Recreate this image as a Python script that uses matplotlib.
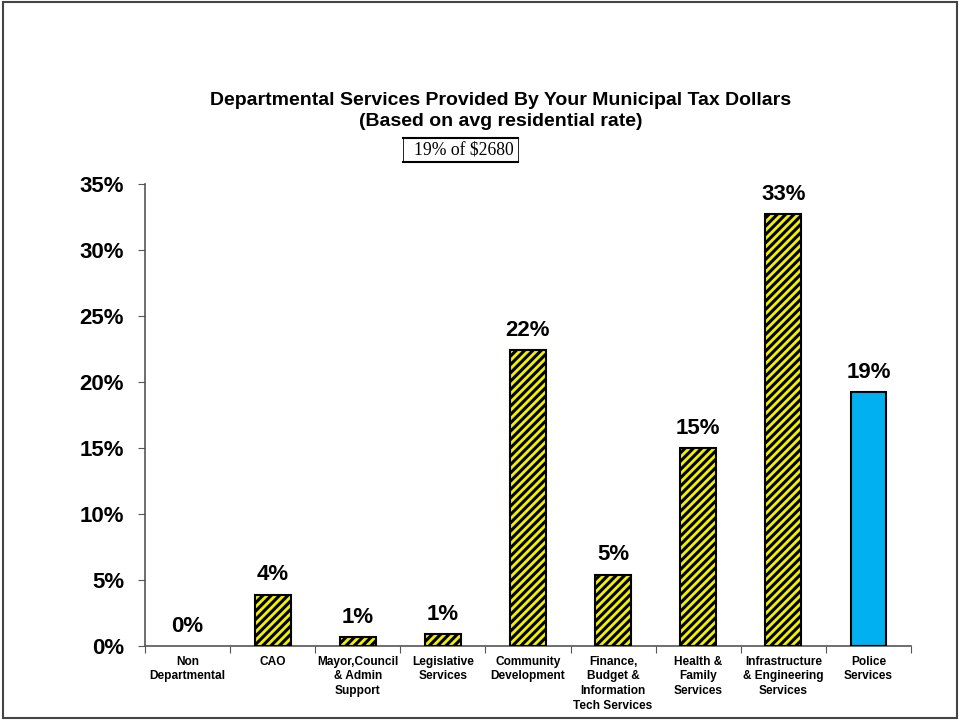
import matplotlib
matplotlib.use('Agg')
import matplotlib.pyplot as plt
from matplotlib.patches import Rectangle
from matplotlib.lines import Line2D

plt.rcParams['font.family'] = ['Liberation Sans', 'DejaVu Sans']
plt.rcParams['hatch.linewidth'] = 2.2

# data
categories = ['Non\nDepartmental', 'CAO', 'Mayor,Council\n& Admin\nSupport',
              'Legislative\nServices', 'Community\nDevelopment',
              'Finance,\nBudget &\nInformation\nTech Services',
              'Health &\nFamily\nServices',
              'Infrastructure\n& Engineering\nServices', 'Police\nServices']
values = [0.0, 3.9, 0.65, 0.9, 22.4, 5.4, 15.0, 32.7, 19.2]
labels = ['0%', '4%', '1%', '1%', '22%', '5%', '15%', '33%', '19%']
highlight = 'Police\nServices'

fig = plt.figure(figsize=(9.6, 7.21), dpi=100)
ax = fig.add_axes([0.151, 0.104, 0.798, 0.641])

x = list(range(len(categories)))
for i, (c, v) in enumerate(zip(categories, values)):
    if c == highlight:
        ax.bar(i, v, width=0.42, color='#00B0F0', edgecolor='black', linewidth=1.5, zorder=3)
    elif v > 0:
        ax.bar(i, v, width=0.42, color='#F0F000', edgecolor='black', linewidth=1.5,
               hatch='////', zorder=3)

for i, (v, t) in enumerate(zip(values, labels)):
    ax.text(i, v + 0.7, t, ha='center', va='bottom', fontsize=16, fontweight='bold')

ax.set_xlim(-0.5, len(categories) - 0.5)
ax.set_ylim(0, 35)
ax.set_yticks(range(0, 36, 5))
ax.set_yticklabels([f'{t}%' for t in range(0, 36, 5)], fontsize=16, fontweight='bold')
ax.set_xticks([i - 0.5 for i in range(len(categories) + 1)])
ax.set_xticklabels([])
ax.set_xticks(x, minor=True)
ax.set_xticklabels(categories, minor=True, fontsize=8.6, fontweight='bold', linespacing=1.3)
ax.tick_params(axis='x', which='minor', length=0, pad=7)
ax.tick_params(axis='x', which='major', length=5, color='#555555')
ax.tick_params(axis='y', length=5, color='#555555', pad=10)
for s in ['top', 'right']:
    ax.spines[s].set_visible(False)
for s in ['left', 'bottom']:
    ax.spines[s].set_color('#555555')
    ax.spines[s].set_linewidth(1.2)

fig.text(501 / 960, 0.861, 'Departmental Services Provided By Your Municipal Tax Dollars',
         ha='center', va='center', fontsize=14, fontweight='bold')
fig.text(501 / 960, 0.832, '(Based on avg residential rate)',
         ha='center', va='center', fontsize=14, fontweight='bold')

# subtitle box
fig.patches.append(Rectangle((403 / 960, 1 - 162 / 721), 115 / 960, 24 / 721,
                             transform=fig.transFigure, facecolor='white',
                             edgecolor='black', linewidth=0.6))
for yy in [138, 162]:
    fig.lines.append(Line2D([403 / 960, 518 / 960], [1 - yy / 721] * 2,
                            transform=fig.transFigure, color='black', linewidth=1.5))
fig.text(464 / 960, 1 - 150 / 721, '19% of $2680', ha='center', va='center',
         fontsize=12.7, family='Liberation Serif')

# outer frame
fig.patches.append(Rectangle((0.003, 0.004), 0.994, 0.993, transform=fig.transFigure,
                             fill=False, edgecolor='#444444', linewidth=1.5))

fig.savefig('out.png', dpi=100)
